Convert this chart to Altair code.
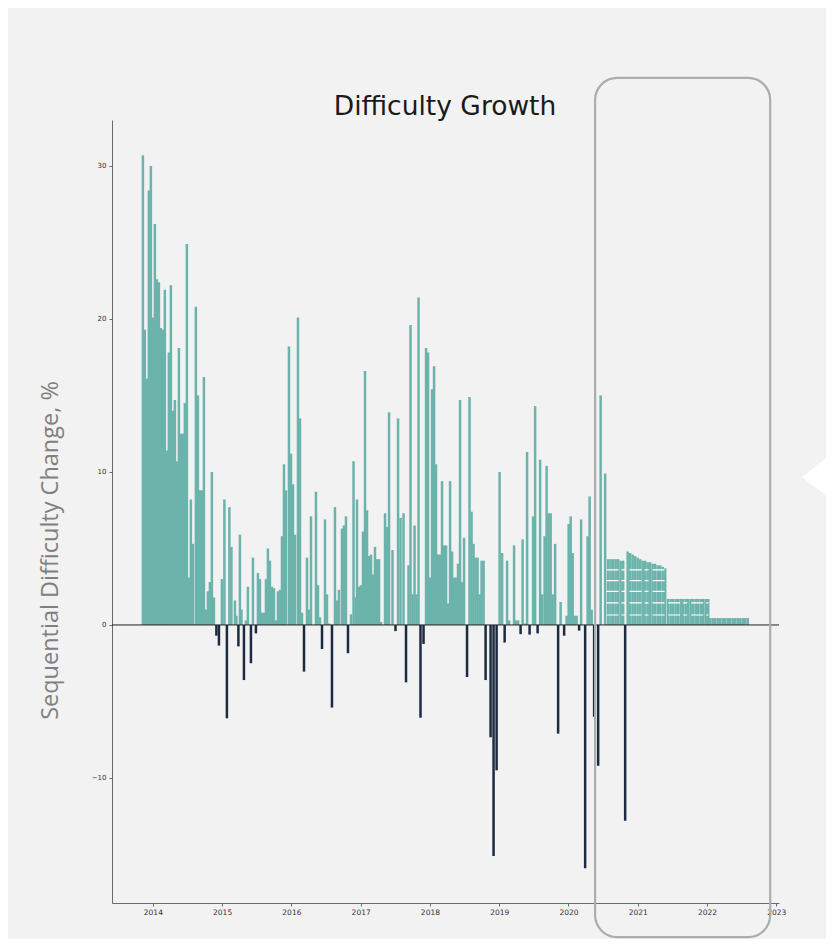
import altair as alt
import pandas as pd

# ---- historical difficulty adjustments (year fraction, % change) ----
hist_year = [
    2013.856, 2013.884, 2013.913, 2013.942, 2013.971, 2014.000, 2014.029, 2014.058, 2014.087, 2014.116,
    2014.144, 2014.173, 2014.202, 2014.231, 2014.260, 2014.289, 2014.318, 2014.347, 2014.376, 2014.405,
    2014.433, 2014.462, 2014.491, 2014.520, 2014.549, 2014.578, 2014.621, 2014.650, 2014.679, 2014.708,
    2014.737, 2014.766, 2014.795, 2014.823, 2014.852, 2014.881, 2014.917, 2014.954, 2014.997, 2015.033,
    2015.069, 2015.105, 2015.134, 2015.185, 2015.206, 2015.235, 2015.257, 2015.279, 2015.315, 2015.344,
    2015.372, 2015.416, 2015.445, 2015.488, 2015.517, 2015.546, 2015.575, 2015.604, 2015.633, 2015.661,
    2015.690, 2015.719, 2015.748, 2015.777, 2015.806, 2015.835, 2015.864, 2015.893, 2015.921, 2015.965,
    2015.994, 2016.023, 2016.052, 2016.095, 2016.124, 2016.153, 2016.182, 2016.225, 2016.254, 2016.283,
    2016.355, 2016.384, 2016.413, 2016.442, 2016.485, 2016.514, 2016.543, 2016.586, 2016.629, 2016.658,
    2016.687, 2016.730, 2016.759, 2016.788, 2016.817, 2016.861, 2016.897, 2016.926, 2016.947, 2016.976,
    2017.005, 2017.034, 2017.063, 2017.092, 2017.121, 2017.150, 2017.178, 2017.207, 2017.236, 2017.265,
    2017.294, 2017.352, 2017.381, 2017.410, 2017.460, 2017.503, 2017.540, 2017.576, 2017.619, 2017.655,
    2017.691, 2017.720, 2017.749, 2017.778, 2017.807, 2017.836, 2017.864, 2017.908, 2017.944, 2017.973,
    2018.002, 2018.031, 2018.060, 2018.088, 2018.117, 2018.146, 2018.175, 2018.204, 2018.233, 2018.262,
    2018.291, 2018.320, 2018.349, 2018.377, 2018.406, 2018.435, 2018.464, 2018.493, 2018.536, 2018.572,
    2018.601, 2018.630, 2018.659, 2018.688, 2018.717, 2018.746, 2018.775, 2018.804, 2018.876, 2018.919,
    2018.963, 2019.006, 2019.042, 2019.079, 2019.114, 2019.143, 2019.215, 2019.244, 2019.273, 2019.309,
    2019.338, 2019.367, 2019.403, 2019.439, 2019.490, 2019.519, 2019.555, 2019.591, 2019.620, 2019.656,
    2019.685, 2019.714, 2019.743, 2019.772, 2019.808, 2019.851, 2019.887, 2019.938, 2019.974, 2020.003,
    2020.032, 2020.061, 2020.090, 2020.118, 2020.154, 2020.183, 2020.241, 2020.277, 2020.306, 2020.335,
    2020.371, 2020.429, 2020.465, 2020.530, 2020.819,
]
hist_value = [
    30.7, 19.3, 16.1, 28.4, 30.0, 20.1, 26.2, 22.6, 22.4, 19.4,
    19.3, 21.9, 11.4, 17.8, 22.2, 14.0, 14.7, 10.7, 18.1, 12.5,
    12.5, 14.5, 24.9, 3.1, 8.2, 5.3, 20.8, 15.0, 8.8, 8.8,
    16.2, 1.0, 2.2, 2.8, 10.0, 1.8, -0.7, -1.35, 3.0, 8.2,
    -6.1, 7.7, 5.1, 1.6, 0.6, -1.4, 5.9, 1.0, -3.6, 0.3,
    2.5, -2.5, 4.4, -0.55, 3.4, 3.0, 0.8, 0.8, 3.0, 5.0,
    4.2, 2.5, 2.4, 0.3, 2.2, 2.3, 5.8, 10.5, 8.8, 18.2,
    11.2, 9.2, 5.9, 20.1, 13.5, 0.8, -3.05, 4.4, 1.0, 7.1,
    8.7, 2.6, 0.5, -1.57, 6.9, 2.0, 0.1, -5.4, 7.7, 1.6,
    2.3, 6.3, 6.5, 7.1, -1.85, 0.7, 10.7, 1.8, 8.2, 2.5,
    2.6, 6.1, 16.6, 7.5, 4.5, 4.6, 3.3, 5.1, 4.3, 4.3,
    0.2, 7.3, 6.4, 13.9, 4.9, -0.4, 13.5, 7.0, 7.3, -3.75,
    3.9, 19.6, 2.0, 6.5, 2.0, 21.4, -6.06, -1.24, 18.1, 17.8,
    3.1, 15.4, 16.9, 10.5, 4.6, 4.6, 9.4, 5.2, 5.2, 1.4,
    9.4, 4.8, 3.1, 3.1, 4.0, 14.7, 2.8, 5.7, -3.4, 14.9,
    7.4, 5.3, 4.4, 4.4, 2.0, 4.2, 4.2, -3.6, -7.34, -15.1,
    -9.5, 10.0, 4.7, -1.15, 4.2, 0.3, 5.2, 0.3, 0.3, -0.6,
    5.6, 0.1, 11.3, -0.63, 7.1, 14.3, -0.55, 10.8, 2.0, 5.8,
    10.4, 7.3, 7.3, 2.0, 5.3, -7.1, 1.5, -0.7, 0.6, 6.6,
    7.1, 4.7, 0.6, 0.6, -0.37, 6.9, -15.9, 5.8, 8.4, 1.0,
    -6.0, -9.2, 15.0, 9.9, -12.8,
]

# ---- projected adjustments ----
proj_year = [
    2020.573, 2020.609, 2020.645, 2020.681, 2020.717, 2020.754, 2020.790,
    2020.855, 2020.891, 2020.927, 2020.963, 2020.999, 2021.036, 2021.072, 2021.108,
    2021.144, 2021.180, 2021.216, 2021.252, 2021.289, 2021.325, 2021.361, 2021.397,
    2021.440, 2021.476, 2021.512, 2021.548, 2021.585, 2021.621, 2021.657, 2021.693,
    2021.729, 2021.765, 2021.802, 2021.838, 2021.874, 2021.910, 2021.946, 2021.982, 2022.018,
    2022.047, 2022.083, 2022.119, 2022.155, 2022.192, 2022.228, 2022.264, 2022.300,
    2022.336, 2022.372, 2022.409, 2022.445, 2022.481, 2022.517, 2022.553, 2022.589,
]
proj_value = [
    4.3, 4.3, 4.3, 4.3, 4.3, 4.2, 4.2,
    4.8, 4.7, 4.6, 4.5, 4.4, 4.3, 4.2, 4.2,
    4.1, 4.1, 4.0, 4.0, 3.9, 3.9, 3.8, 3.7,
    1.7, 1.7, 1.7, 1.7, 1.7, 1.7, 1.7, 1.7,
    1.7, 1.7, 1.7, 1.7, 1.7, 1.7, 1.7, 1.7, 1.7,
    0.45, 0.45, 0.45, 0.45, 0.45, 0.45, 0.45, 0.45,
    0.45, 0.45, 0.45, 0.45, 0.45, 0.45, 0.45, 0.45,
]

# white scenario lines seen across the projected block
line_level = [3.6, 2.9, 2.2, 1.44, 0.65, 1.44, 0.65]
line_start = [2020.55, 2020.55, 2020.55, 2020.55, 2020.55, 2021.44, 2021.44]
line_end = [2021.42, 2021.42, 2021.42, 2021.42, 2021.42, 2022.02, 2022.02]

# highlight window (time range around the projection)
box_x = [2020.385]
box_x2 = [2022.913]
box_y = [35.75]
box_y2 = [-20.4]

x_ticks = [2014, 2015, 2016, 2017, 2018, 2019, 2020, 2021, 2022, 2023]
y_ticks = [-10, 0, 10, 20, 30]

TITLE = "Difficulty Growth"
YLABEL = "Sequential Difficulty Change, %"

TEAL = "#6bb3ab"
NAVY = "#1b2b42"

bars_df = pd.DataFrame({"year": hist_year + proj_year, "change": hist_value + proj_value})
lines_df = pd.DataFrame({"level": line_level, "start": line_start, "end": line_end})
box_df = pd.DataFrame({"x": box_x, "x2": box_x2, "y": box_y, "y2": box_y2})
zero_df = pd.DataFrame({"zero": [0]})
title_df = pd.DataFrame({"t": [TITLE]})

xscale = alt.Scale(domain=[2013.41, 2023.04], nice=False, zero=False, padding=0)
yscale = alt.Scale(domain=[-18.17, 33.0], nice=False, zero=False, padding=0)

bars = alt.Chart(bars_df).mark_bar(size=2.5).encode(
    x=alt.X("year:Q", scale=xscale,
            axis=alt.Axis(values=x_ticks, format="d", title=None, grid=False,
                          domainColor="#6a6a6a", tickColor="#6a6a6a", tickSize=3,
                          labelFontSize=7.5, labelColor="#333333", labelFont="DejaVu Sans",
                          labelPadding=2)),
    y=alt.Y("change:Q", scale=yscale,
            axis=alt.Axis(values=y_ticks, grid=False, title=YLABEL,
                          titleFontSize=23.5, titleFont="Open Sans", titleFontWeight="normal",
                          titleColor="#808080", titleX=-62, titleY=430, titleAngle=270,
                          titleAlign="center", titleBaseline="middle",
                          domainColor="#6a6a6a", tickColor="#6a6a6a", tickSize=3,
                          labelFontSize=7, labelColor="#333333", labelFont="DejaVu Sans",
                          labelPadding=3)),
    color=alt.condition(alt.datum.change >= 0, alt.value(TEAL), alt.value(NAVY)),
)

scen_lines = alt.Chart(lines_df).mark_rule(color="white", strokeWidth=1.2,
                                           strokeDash=[12, 3, 4, 4]).encode(
    x=alt.X("start:Q", scale=xscale),
    x2="end:Q",
    y=alt.Y("level:Q", scale=yscale),
)

zero_line = alt.Chart(zero_df).mark_rule(color="#222222", strokeWidth=1).encode(
    y=alt.Y("zero:Q", scale=yscale)
)

box = alt.Chart(box_df).mark_rect(fillOpacity=0, stroke="#adadad", strokeWidth=2.2,
                                  cornerRadius=22).encode(
    x=alt.X("x:Q", scale=xscale), x2="x2:Q",
    y=alt.Y("y:Q", scale=yscale), y2="y2:Q",
)

arrow = alt.Chart(zero_df).mark_point(
    shape="M 0 -1 L -1.28 0 L 0 1 Z", filled=True, fill="white", fillOpacity=1,
    strokeWidth=0, size=2500,
).encode(x=alt.value(722), y=alt.value(357))

title = alt.Chart(title_df).mark_text(
    fontSize=26.5, font="DejaVu Sans", color="#1a1a1a", align="center", baseline="alphabetic"
).encode(text="t:N", x=alt.value(333), y=alt.value(-5))

chart = alt.layer(bars, scen_lines, zero_line, box, arrow, title).properties(
    width=667,
    height=783,
    autosize=alt.AutoSizeParams(type="none"),
    padding={"left": 104, "top": 112, "right": 47, "bottom": 36},
).configure(background="#f2f2f2").configure_view(strokeOpacity=0)

chart.save("out.html", embed_options={"renderer": "svg", "actions": False})
